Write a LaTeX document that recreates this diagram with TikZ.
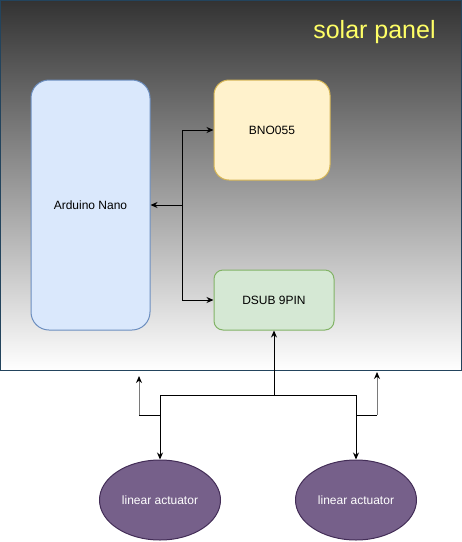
\documentclass[tikz,border=0pt]{standalone}
\usepackage{fontspec}
\setmainfont{Liberation Sans}
\usepackage{tikz}
\usetikzlibrary{arrows.meta,shapes.geometric}

\definecolor{panelTop}{HTML}{333333}
\definecolor{panelLine}{HTML}{23445D}
\definecolor{sunYellow}{HTML}{FFFF66}
\definecolor{nanoFill}{HTML}{DAE8FC}
\definecolor{nanoLine}{HTML}{6C8EBF}
\definecolor{bnoFill}{HTML}{FFF2CC}
\definecolor{bnoLine}{HTML}{D6B656}
\definecolor{dsubFill}{HTML}{D5E8D4}
\definecolor{dsubLine}{HTML}{82B366}
\definecolor{actFill}{HTML}{76608A}
\definecolor{actLine}{HTML}{432D57}
\definecolor{backEdge}{HTML}{7A7A7A}

\begin{document}
\begin{tikzpicture}[x=1pt, y=-1pt, line width=1pt,
    font=\fontsize{12}{14}\selectfont,
    >={Stealth[length=7pt,width=6pt]},
    board/.style={draw, rounded corners=15pt, inner sep=0pt},
    actuator/.style={ellipse, draw=actLine, fill=actFill, text=white, minimum width=121, minimum height=80, inner sep=0pt},
    backwire/.style={backEdge, -{Stealth[length=7pt,width=6pt,black]}}]
	\useasboundingbox (0,0) rectangle (462,542);
	% solar panel
	\node[draw=panelLine, top color=panelTop, bottom color=white, minimum width=460.5, minimum height=369.5, inner sep=0pt] (panel) at (230.75,185.25) {};
	\node[text=sunYellow, font=\fontsize{25}{29}\selectfont] (title) at (374.5,32) {solar panel};
	% boards
	\node[board, draw=nanoLine, fill=nanoFill, minimum width=119, minimum height=250, rounded corners=18pt] (nano) at (90.5,205) {Arduino Nano};
	\node[board, draw=bnoLine, fill=bnoFill, minimum width=116, minimum height=100] (bno) at (272,130) {BNO055};
	\node[board, draw=dsubLine, fill=dsubFill, minimum width=120, minimum height=60, rounded corners=9pt] (dsub) at (274,300) {DSUB 9PIN};
	% actuators
	\node[actuator] (act1) at (160,500) {linear actuator};
	\node[actuator] (act2) at (356,500) {linear actuator};
	% wiring
	\coordinate (hub) at (182,205);
	\draw[->] (hub) -- (nano.east);
	\draw[->] (hub) |- (bno.west);
	\draw[->] (hub) |- (dsub.west);
	\coordinate (split) at (274,395);
	\coordinate (bend1) at (160,415);
	\coordinate (bend2) at (356,415);
	\coordinate (corner1) at (139,415);
	\coordinate (corner2) at (377,415);
	\coordinate (tip1) at (139,376);
	\coordinate (tip2) at (377,372);
	\draw (bend1) -- (corner1);
	\draw (bend2) -- (corner2);
	\draw[backwire] (corner1) -- (tip1);
	\draw[backwire] (corner2) -- (tip2);
	\draw[->] (split) -- (dsub.south);
	\draw[->] (split) -| (act1.north);
	\draw[->] (split) -| (act2.north);
\end{tikzpicture}
\end{document}
